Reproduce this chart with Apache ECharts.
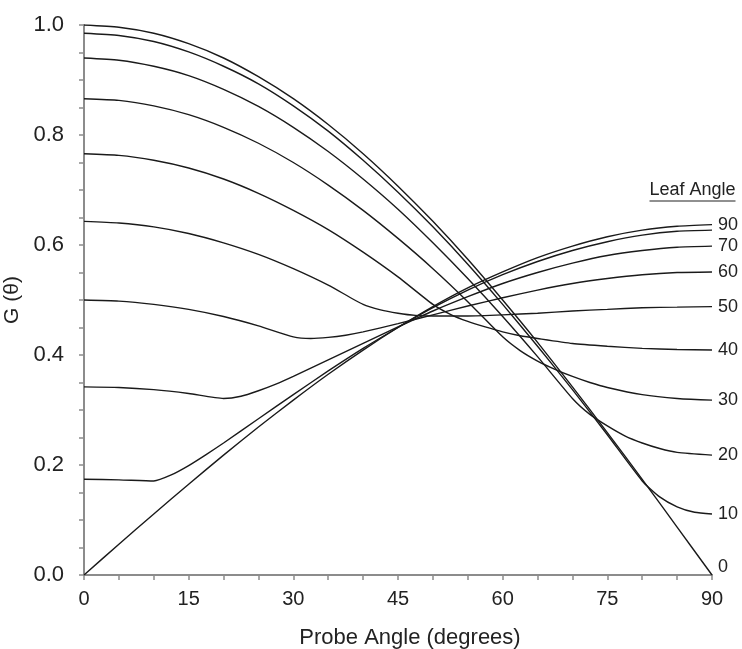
<!DOCTYPE html>
<html>
<head>
<meta charset="utf-8">
<script src="https://cdn.jsdelivr.net/npm/echarts@6/dist/echarts.min.js"></script>
<style>
html,body{margin:0;padding:0;background:#fff;}
#c{width:742px;height:649px;}
</style>
</head>
<body>
<div id="c"></div>
<script>
const probeAngles = [0,5,10,15,20,25,30,35,40,45,50,55,60,65,70,75,80,85,90];
const leafAngles = ['0','10','20','30','40','50','60','70','80','90'];
const g0  = [1.000,0.996,0.985,0.966,0.940,0.906,0.866,0.819,0.766,0.707,0.643,0.574,0.500,0.423,0.342,0.259,0.174,0.087,0.000];
const g10 = [0.985,0.981,0.970,0.951,0.925,0.893,0.853,0.807,0.754,0.696,0.633,0.565,0.492,0.416,0.337,0.255,0.171,0.124,0.111];
const g20 = [0.940,0.936,0.925,0.908,0.883,0.852,0.814,0.770,0.720,0.665,0.604,0.539,0.470,0.397,0.321,0.271,0.240,0.223,0.218];
const g30 = [0.866,0.863,0.853,0.837,0.814,0.785,0.750,0.709,0.663,0.612,0.557,0.497,0.433,0.389,0.361,0.341,0.328,0.321,0.318];
const g40 = [0.766,0.763,0.754,0.740,0.720,0.694,0.663,0.628,0.587,0.542,0.492,0.461,0.442,0.430,0.421,0.416,0.412,0.410,0.409];
const g50 = [0.643,0.640,0.633,0.621,0.604,0.583,0.557,0.527,0.492,0.476,0.471,0.471,0.473,0.476,0.480,0.483,0.486,0.487,0.488];
const g60 = [0.500,0.498,0.492,0.483,0.470,0.453,0.433,0.432,0.442,0.457,0.473,0.489,0.504,0.518,0.530,0.539,0.546,0.550,0.551];
const g70 = [0.342,0.341,0.337,0.330,0.321,0.335,0.361,0.391,0.421,0.451,0.480,0.506,0.530,0.550,0.567,0.581,0.590,0.596,0.598];
const g80 = [0.174,0.173,0.171,0.199,0.240,0.284,0.328,0.371,0.412,0.450,0.486,0.518,0.546,0.570,0.590,0.606,0.618,0.625,0.627];
const g90 = [0.000,0.056,0.111,0.165,0.218,0.269,0.318,0.365,0.409,0.450,0.488,0.522,0.551,0.577,0.598,0.615,0.627,0.634,0.637];
// extra readings where the curves bend sharply
const bendAngles10 = [82.5, 87.5];        const bendG10 = [0.142, 0.114];
const bendAngles20 = [72.5, 77.5, 82.5];  const bendG20 = [0.292, 0.253, 0.230];
const bendAngles30 = [62.5, 67.5, 72.5];  const bendG30 = [0.408, 0.374, 0.350];
const bendAngles40 = [52.5, 57.5, 62.5];  const bendG40 = [0.474, 0.451, 0.435];
const bendAngles50 = [42.5, 47.5];        const bendG50 = [0.482, 0.472];
const bendAngles60 = [32.5, 37.5];        const bendG60 = [0.430, 0.436];
const bendAngles70 = [22.5, 27.5];        const bendG70 = [0.325, 0.347];
const bendAngles80 = [12.5, 17.5];        const bendG80 = [0.182, 0.219];
const seriesValues = [g0,g10,g20,g30,g40,g50,g60,g70,g80,g90];
const bendAngles = [[], bendAngles10, bendAngles20, bendAngles30, bendAngles40, bendAngles50, bendAngles60, bendAngles70, bendAngles80, []];
const bendValues = [[], bendG10, bendG20, bendG30, bendG40, bendG50, bendG60, bendG70, bendG80, []];
const hiddenEndLabels = ['80'];
const xTitle = 'Probe Angle (degrees)';
const yTitle = 'G (\u03b8)';
const legendTitle = 'Leaf Angle';

const FONT = '"Liberation Sans", Arial, sans-serif';
const chart = echarts.init(document.getElementById('c'), null, {renderer:'canvas'});

const series = leafAngles.map((name, i) => {
  const pts = probeAngles.map((x, j) => [x, seriesValues[i][j]])
    .concat(bendAngles[i].map((x, j) => [x, bendValues[i][j]]))
    .sort((a, b) => a[0] - b[0]);
  return {
    name: name,
    type: 'line',
    data: pts,
    showSymbol: false,
    symbol: 'none',
    smooth: 0.2,
    lineStyle: {color: '#1a1a1a', width: 1.4},
    emphasis: {disabled: true},
    endLabel: {
      show: hiddenEndLabels.indexOf(name) < 0,
      formatter: '{a}',
      color: '#222',
      fontFamily: FONT,
      fontSize: 18,
      distance: 6,
      offset: name === '0' ? [0, -8] : [0, 0]
    }
  };
});

const axisGray = '#8c8c8c';
chart.setOption({
  animation: false,
  backgroundColor: '#fff',
  grid: {left: 84, right: 30, top: 25, bottom: 74, containLabel: false, outerBoundsMode: 'none'},
  xAxis: {
    type: 'value', min: 0, max: 90, interval: 5,
    name: xTitle, nameLocation: 'middle', nameGap: 52,
    nameTextStyle: {fontFamily: FONT, fontSize: 22, color: '#222', padding: [0,0,0,24]},
    axisLine: {show: true, lineStyle: {color: axisGray, width: 2}},
    axisTick: {show: true, length: 5, lineStyle: {color: axisGray, width: 1.5}},
    splitLine: {show: false},
    axisLabel: {
      fontFamily: FONT, fontSize: 20, color: '#222', margin: 14,
      formatter: v => (Math.round(v) % 15 === 0 ? String(Math.round(v)) : '')
    }
  },
  yAxis: {
    type: 'value', min: 0, max: 1, interval: 0.05,
    name: yTitle, nameLocation: 'middle', nameGap: 54,
    nameTextStyle: {fontFamily: FONT, fontSize: 21, color: '#222'},
    axisLine: {show: true, lineStyle: {color: axisGray, width: 2}},
    axisTick: {show: true, length: 5, lineStyle: {color: axisGray, width: 1.5}},
    splitLine: {show: false},
    axisLabel: {
      fontFamily: FONT, fontSize: 22, color: '#222', margin: 20,
      formatter: v => { const k = v * 5; return Math.abs(k - Math.round(k)) < 1e-6 ? v.toFixed(1) : ''; }
    }
  },
  graphic: [{
    type: 'group', right: 4, top: 181,
    children: [
      {type: 'text', left: 0, top: 0, style: {text: legendTitle, font: '18px ' + FONT, fill: '#222'}},
      {type: 'line', shape: {x1: 0, y1: 20, x2: 86, y2: 20}, style: {stroke: '#222', lineWidth: 1.2}}
    ]
  }],
  series: series
});
</script>
</body>
</html>
